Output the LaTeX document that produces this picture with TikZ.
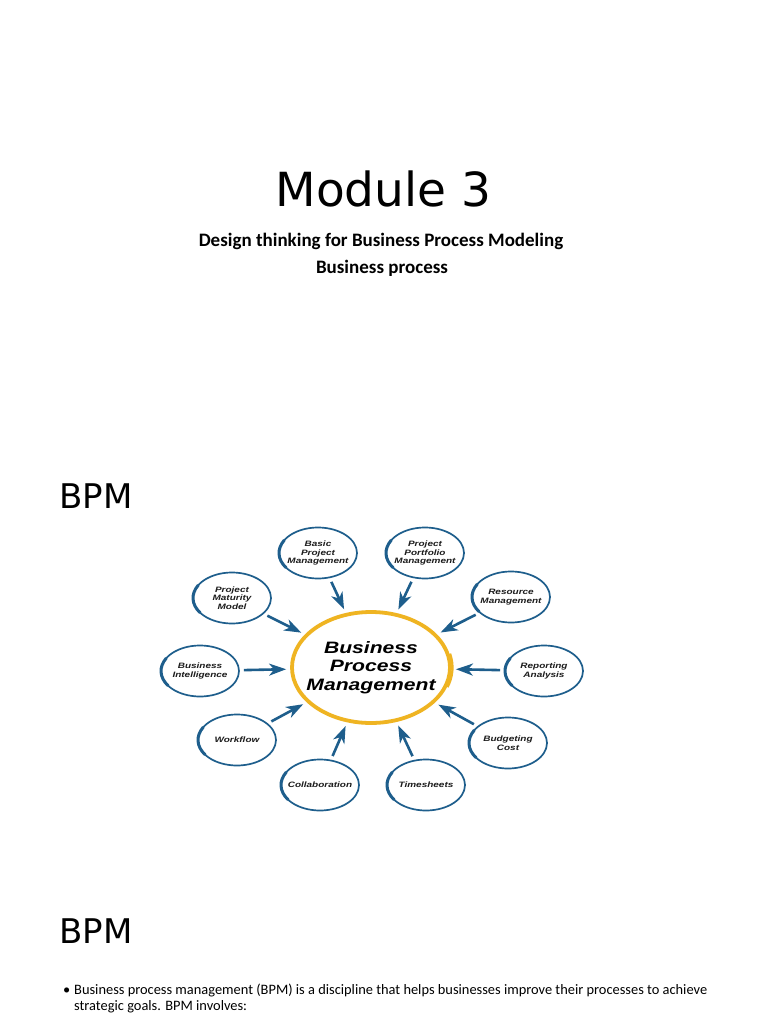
\documentclass[tikz,border=0pt]{standalone}
\usepackage{fontspec}
\setmainfont{Carlito}
\newfontfamily\headfont{DejaVu Sans}
\newfontfamily\bpmfont{Liberation Sans}[FakeStretch=1.28]
\usetikzlibrary{shapes.geometric}
\usetikzlibrary{arrows.meta}
\definecolor{bpmblue}{HTML}{1E5E8C}
\definecolor{bpmyellow}{HTML}{EFB422}
\definecolor{bpmtext}{HTML}{1C1C1C}
\tikzset{
every picture/.style={x=1pt, y=1pt},
%%%%%%%%%%  Text styles
heading/.style={font=\headfont\fontsize{47}{56}\selectfont,
                anchor=base, inner sep=0},
slidehead/.style={font=\headfont\fontsize{34}{40}\selectfont,
                  anchor=base west, inner sep=0},
subhead/.style={font=\bfseries\fontsize{19}{23}\selectfont,
                anchor=base, inner sep=0},
bodytext/.style={font=\fontsize{14.4}{16}\selectfont,
                 anchor=base west, inner sep=0},
%%%%%%%%%%  Node styles
bubble/.style={ellipse, draw=bpmblue, line width=1.7pt, minimum width=78pt,
               minimum height=51pt, inner xsep=-8pt, inner ysep=0pt,
               text=bpmtext, align=center,
               font=\bpmfont\bfseries\itshape\fontsize{7.8}{8.6}\selectfont},
hub/.style={ellipse, draw=bpmyellow, line width=3.8pt, minimum width=158pt,
            minimum height=111pt, inner xsep=-25pt, inner ysep=0pt,
            text=black, align=center,
            font=\bpmfont\bfseries\itshape\fontsize{16.5}{18.5}\selectfont},
%%%% different line styles:
brush/.style={draw=bpmblue, line width=3pt, line cap=round},
flow/.style={draw=bpmblue, line width=2.6pt,
             -{Stealth[length=17pt, width=12pt, inset=5pt]},
             shorten <=4pt, shorten >=4pt}
}

\begin{document}
\begin{tikzpicture}
\fill[white] (0,0) rectangle (768,-1024);
\useasboundingbox (0,0) rectangle (768,-1024);
%%%% title slide
\node[heading] (title) at (383.5,-207) {Module 3};
\node[subhead] (sub1) at (381,-247) {Design thinking for Business Process Modeling};
\node[subhead] (sub2) at (382,-273) {Business process};
%%%% diagram slide
\node[slidehead] (bpm1) at (59,-508) {BPM};
\node[hub] (hub) at (371,-667.5) {Business\\Process\\Management};
\draw[bpmyellow, line width=2.2pt] ([shift={(-20:81.5 and 57.5)}]hub.center)
      arc[start angle=-20, end angle=14, x radius=81.5, y radius=57.5];
\node[bubble] (basic) at (318,-553) {Basic\\Project\\Management};
\node[bubble] (portfolio) at (425,-553) {Project\\Portfolio\\Management};
\node[bubble] (resource) at (511,-597) {Resource\\Management};
\node[bubble] (reporting) at (544,-671) {Reporting\\Analysis};
\node[bubble] (budgeting) at (508,-743) {Budgeting\\Cost};
\node[bubble] (timesheets) at (426,-785) {Timesheets};
\node[bubble] (collab) at (320,-785) {Collaboration};
\node[bubble] (workflow) at (237,-740) {Workflow};
\node[bubble] (intel) at (200,-671) {Business\\Intelligence};
\node[bubble] (maturity) at (232,-598) {Project\\Maturity\\Model};
\foreach \n in {basic,portfolio,resource,reporting,budgeting,
                timesheets,collab,workflow,intel,maturity}{
  \draw[brush] ([shift={(150:39 and 25.5)}]\n.center)
        arc[start angle=150, end angle=215, x radius=39, y radius=25.5];
  \draw[flow] (\n) -- (hub);
}
%%%% text slide
\node[slidehead] (bpm2) at (59,-943) {BPM};
\node[bodytext] (dot) at (63,-994) {\textbullet};
\node[bodytext] (intro) at (74,-994) {Business process management (BPM) is a discipline that helps businesses improve their processes to achieve};
\node[bodytext] (introend) at (74,-1010) {strategic goals. BPM involves:};
\end{tikzpicture}
\end{document}
